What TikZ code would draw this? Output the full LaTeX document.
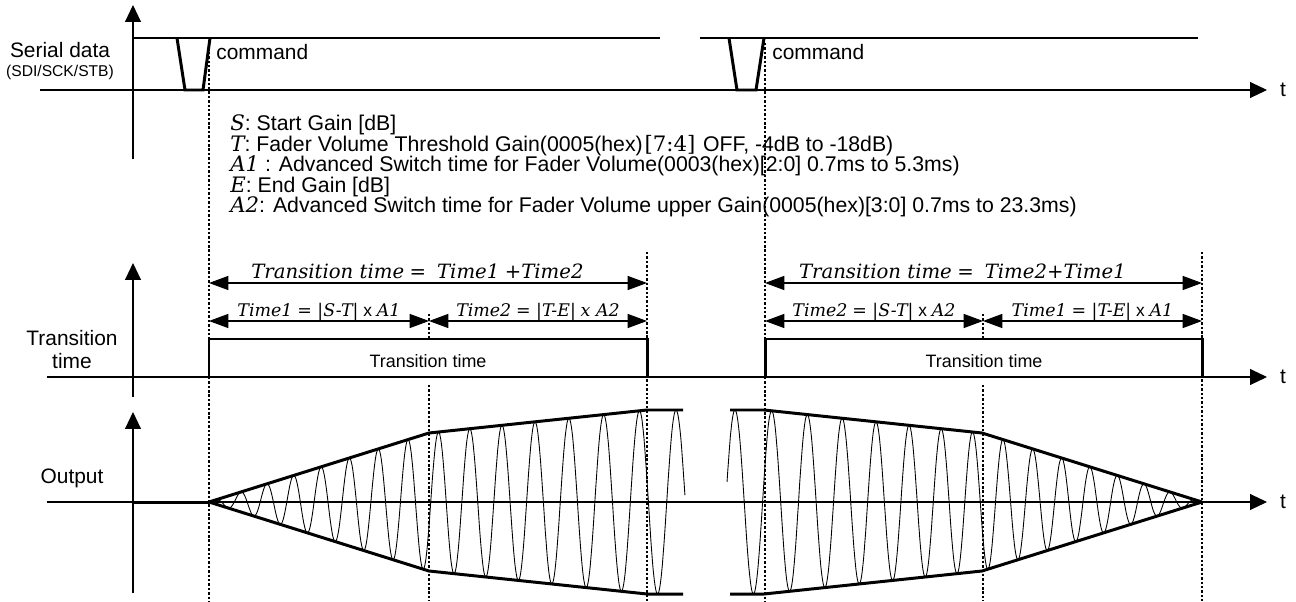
\documentclass[tikz,border=0pt]{standalone}
\usepackage{fontspec}
\setmainfont{Liberation Sans}
\newfontfamily\serf{DejaVu Serif}
\usetikzlibrary{arrows.meta}
\newcommand{\vi}[1]{{\serf\itshape #1}}
\newcommand{\vu}[1]{{\serf #1}}
\tikzset{
  axis/.style={line width=0.7pt,-{Triangle[length=9.6pt,width=9pt]}},
  sig/.style={line width=1.7pt},
  guide/.style={line width=0.7pt,dash pattern=on 1.4pt off 1.1pt},
  dimarr/.style={line width=0.6pt,{Triangle[length=11pt,width=8pt]}-{Triangle[length=11pt,width=8pt]}},
  wave/.style={line width=0.5pt},
  lbl/.style={font=\fontsize{11.9}{13}\selectfont},
  legend/.style={font=\fontsize{12.1}{13}\selectfont,anchor=west},
  boxtxt/.style={font=\fontsize{10.2}{11}\selectfont},
  eqbig/.style={font=\fontsize{11.2}{13}\selectfont,anchor=base,yshift=2.8pt},
  eqsmall/.style={font=\fontsize{9.9}{12}\selectfont,anchor=base,yshift=2.8pt}
}
\begin{document}
\begin{tikzpicture}[scale=0.2,
  declare function={env(\u)=min(0.3136*\u,6.9+0.1055*(\u-22),9.2);
                    ph(\u)=13763*ln(1+0.010504*\u);}]
\tikzstyle{every node}+=[inner sep=0pt]
\useasboundingbox (0,0) rectangle (129.6,-60.1);
% guides
\draw [guide] (20.9,-4.3) -- (20.9,-60.1);
\draw [guide] (76.5,-4.3) -- (76.5,-60.1);
\draw [guide] (42.9,-31.4) -- (42.9,-33.8);
\draw [guide] (42.9,-38.5) -- (42.9,-60.1);
\draw [guide] (64.7,-25.2) -- (64.7,-60.1);
\draw [guide] (98.3,-31.4) -- (98.3,-33.8);
\draw [guide] (98.3,-38.5) -- (98.3,-60.1);
\draw [guide] (120.2,-25.2) -- (120.2,-60.1);
% serial data
\draw [axis] (13.3,-15.9) -- (13.3,-0.5);
\draw [axis] (4.0,-9.0) -- (126.7,-9.0);
\draw (128.3,-9.0) node [lbl] (t1) {t};
\draw (6.0,-5.0) node [lbl] (serlbl) {Serial data};
\draw (6.0,-7.2) node [font=\fontsize{8.9}{10}\selectfont] (serbus) {(SDI/SCK/STB)};
\draw [sig] (13.3,-3.8) -- (66.0,-3.8);
\draw [sig] (70.0,-3.8) -- (119.8,-3.8);
\draw [sig] (17.7,-3.8) -- (18.5,-9.0) -- (20.3,-9.0) -- (21.0,-3.8);
\draw [sig] (72.9,-3.8) -- (73.7,-9.0) -- (75.6,-9.0) -- (76.4,-3.8);
\draw (21.6,-5.2) node [lbl,anchor=west] (cmdA) {command};
\draw (77.2,-5.2) node [lbl,anchor=west] (cmdB) {command};
% legend
\draw (23.0,-12.5) node [legend] (legS) {\vi{S}: Start Gain [dB]};
\draw (23.0,-14.55) node [legend] (legT) {\vi{T}: Fader Volume Threshold Gain(0005(hex)\hspace{1pt}\vu{[7:4]}\hspace{1pt} OFF, -4dB to -18dB)};
\draw (23.0,-16.6) node [legend] (legA1) {\vi{A1} : Advanced Switch time for Fader Volume(0003(hex)[2:0] 0.7ms to 5.3ms)};
\draw (23.0,-18.65) node [legend] (legE) {\vi{E}: End Gain [dB]};
\draw (23.0,-20.7) node [legend] (legA2) {\vi{A2}: Advanced Switch time for Fader Volume upper Gain(0005(hex)[3:0] 0.7ms to 23.3ms)};
% transition time
\draw [axis] (13.3,-39.7) -- (13.3,-26.3);
\draw [axis] (4.7,-37.7) -- (126.7,-37.7);
\draw (128.3,-37.7) node [lbl] (t2) {t};
\draw (7.2,-34.95) node [lbl,align=center] (trlbl) {Transition\\time};
\draw [sig] (13.3,-37.7) -- (20.9,-37.7) -- (20.9,-33.9) -- (64.7,-33.9) -- (64.7,-37.7) -- (68.0,-37.7);
\draw [sig] (73.0,-37.7) -- (76.5,-37.7) -- (76.5,-33.9) -- (120.2,-33.9) -- (120.2,-37.7) -- (122.5,-37.7);
\draw (42.8,-36.1) node [boxtxt] (boxA) {Transition time};
\draw (98.4,-36.1) node [boxtxt] (boxB) {Transition time};
\coordinate (oAl) at (20.9,-28.3);
\coordinate (oAr) at (64.7,-28.3);
\coordinate (iAl) at (20.9,-32.1);
\coordinate (iAm) at (42.9,-32.1);
\coordinate (iAr) at (64.7,-32.1);
\coordinate (oBl) at (76.5,-28.3);
\coordinate (oBr) at (120.2,-28.3);
\coordinate (iBl) at (76.5,-32.1);
\coordinate (iBm) at (98.3,-32.1);
\coordinate (iBr) at (120.2,-32.1);
\draw [dimarr] (oAl) -- node [eqbig,xshift=-6pt] {\vi{Transition time} \vu{=}\ \ \vi{Time1} \vu{+}\vi{Time2}} (oAr);
\draw [dimarr] (iAl) -- node [eqsmall] {\vi{Time1} \vu{= |}\vi{S-T}\vu{|} x \vi{A1}} (iAm);
\draw [dimarr] (iAm) -- node [eqsmall] {\vi{Time2} \vu{= |}\vi{T-E}\vu{|} \vi{x A2}} (iAr);
\draw [dimarr] (oBl) -- node [eqbig,xshift=-12pt] {\vi{Transition time} \vu{=}\ \ \vi{Time2}\vu{+}\vi{Time1}} (oBr);
\draw [dimarr] (iBl) -- node [eqsmall] {\vi{Time2} \vu{= |}\vi{S-T}\vu{|} x \vi{A2}} (iBm);
\draw [dimarr] (iBm) -- node [eqsmall] {\vi{Time1} \vu{= |}\vi{T-E}\vu{|} x \vi{A1}} (iBr);
% output
\draw [axis] (13.3,-59.3) -- (13.3,-41.2);
\draw [axis] (4.7,-50.2) -- (126.7,-50.2);
\draw (128.3,-50.2) node [lbl] (t3) {t};
\draw (7.2,-47.8) node [lbl] (outlbl) {Output};
\draw [sig] (13.3,-50.2) -- (20.9,-50.2);
\draw [wave] plot [domain=0:47.6,samples=700] ({20.9+\x},{-50.2+env(\x)*sin(ph(\x))});
\draw [wave] plot [domain=0:47.5,samples=700] ({120.2-\x},{-50.2+env(\x)*sin(ph(\x))});
\draw [sig] (20.9,-50.2) -- (42.9,-43.3) -- (64.7,-41.0) -- (68.3,-41.0);
\draw [sig] (20.9,-50.2) -- (42.9,-57.1) -- (64.7,-59.4) -- (68.3,-59.4);
\draw [sig] (73.0,-41.0) -- (76.4,-41.0) -- (98.2,-43.3) -- (120.2,-50.2);
\draw [sig] (73.0,-59.4) -- (76.4,-59.4) -- (98.2,-57.1) -- (120.2,-50.2);
\end{tikzpicture}
\end{document}
